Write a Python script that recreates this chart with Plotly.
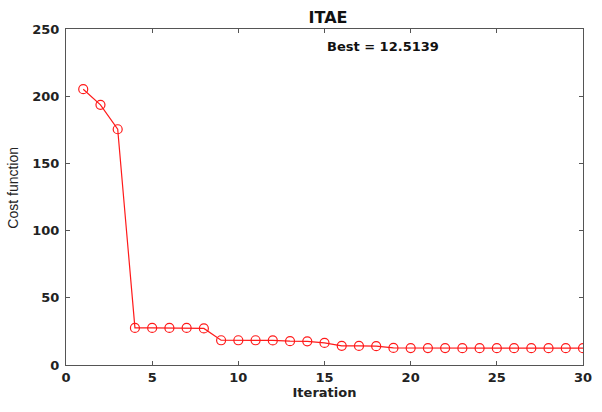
import plotly.graph_objects as go

iterations = list(range(1, 31))
cost = [205.2, 193.6, 175.4, 27.6, 27.6, 27.6, 27.6, 27.2, 18.4, 18.4,
        18.4, 18.3, 17.7, 17.6, 16.4, 14.3, 14.2, 14.0, 12.7, 12.6,
        12.6, 12.6, 12.55, 12.55, 12.55, 12.55, 12.52, 12.52, 12.5139, 12.5139]
title_text = "ITAE"
best_text = "Best = 12.5139"
x_label = "Iteration"
y_label = "Cost function"

font_bold = "DejaVu Sans, Arial, sans-serif"
font_reg = "Liberation Sans, Arial, sans-serif"

fig = go.Figure()
fig.add_trace(go.Scatter(
    x=iterations, y=cost, mode="lines+markers",
    line=dict(color="#ff1a1a", width=1.2),
    marker=dict(symbol="circle-open", size=9, color="#ff1a1a", line=dict(width=1.2)),
    showlegend=False,
))

fig.add_annotation(x=15.05, y=237, xref="x", yref="y", text="<b>" + best_text + "</b>",
                   showarrow=False, xanchor="left", yanchor="middle",
                   font=dict(family=font_bold, size=13, color="#111"))

# y-axis title placed as rotated text
fig.add_annotation(x=-0.103, y=0.527, xref="paper", yref="paper", text=y_label,
                   showarrow=False, textangle=-90, xanchor="center", yanchor="middle",
                   font=dict(family=font_reg, size=14, color="#222"))

axis_common = dict(
    showline=True, linecolor="#555", linewidth=1, mirror="ticks",
    ticks="inside", ticklen=4, tickcolor="#555", showgrid=False, zeroline=False,
    tickfont=dict(family=font_bold, size=13, color="#222", weight="bold"),
)

fig.update_layout(
    width=602, height=412,
    margin=dict(l=66, r=10, t=29, b=47),
    paper_bgcolor="white", plot_bgcolor="white",
    title=dict(text="<b>" + title_text + "</b>", x=0.545, xanchor="center", y=0.958, yanchor="middle",
               font=dict(family=font_bold, size=16, color="#111")),
    xaxis=dict(range=[0, 30], tickvals=[0, 5, 10, 15, 20, 25, 30],
               title=dict(text="<b>" + x_label + "</b>", standoff=2,
                          font=dict(family=font_bold, size=13, color="#222")),
               **axis_common),
    yaxis=dict(range=[0, 250], tickvals=[0, 50, 100, 150, 200, 250],
               ticklabelstandoff=3,
               **axis_common),
)

fig.write_html("out.html")
